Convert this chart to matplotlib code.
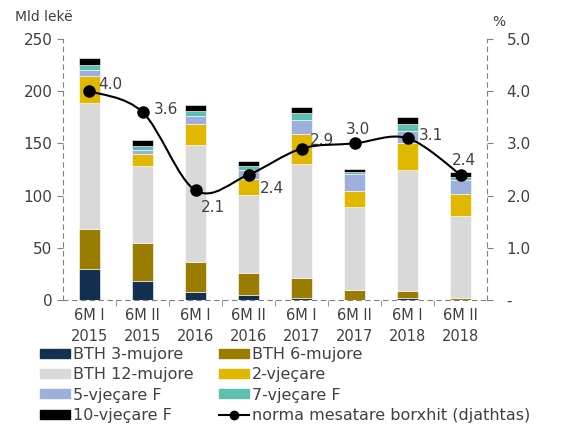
import numpy as np
import matplotlib.pyplot as plt
from matplotlib.path import Path
from matplotlib.patches import PathPatch
from matplotlib.lines import Line2D
from matplotlib.patches import Patch

plt.rcParams['font.family'] = ['DejaVu Sans']

# data
periods = ["6M I\n2015", "6M II\n2015", "6M I\n2016", "6M II\n2016",
           "6M I\n2017", "6M II\n2017", "6M I\n2018", "6M II\n2018"]
bth3 = [30, 18.5, 7.5, 4.5, 1.5, 0.3, 2, 0.3]
bth6 = [38, 36.5, 28.5, 21, 20, 9.5, 6.5, 2]
bth12 = [121, 73, 112.5, 75.5, 108.5, 79.5, 116.5, 78.5]
y2 = [26, 12, 20.5, 15, 29, 15.5, 25, 20.5]
y5 = [5, 4, 7, 8.5, 13, 16, 12, 14]
y7 = [5, 3.5, 5, 3.5, 7, 1.5, 7, 2.5]
y10 = [7, 5.5, 6, 5.5, 6, 3.5, 6.5, 5]
rate = [4.0, 3.6, 2.1, 2.4, 2.9, 3.0, 3.1, 2.4]

series = [bth3, bth6, bth12, y2, y5, y7, y10]
names = ["BTH 3-mujore", "BTH 6-mujore", "BTH 12-mujore", "2-vjeçare",
         "5-vjeçare F", "7-vjeçare F", "10-vjeçare F"]
colors = ["#12304f", "#9a7d00", "#d9d9d9", "#e0b800", "#9fafdc", "#5cbfb0", "#000000"]
txt = "#404040"

fig = plt.figure(figsize=(5.61, 4.41), dpi=100)
ax = fig.add_axes([63/561, 1-300/441, (487-63)/561, (300-39)/441])
ax2 = ax.twinx()

x = np.arange(len(periods))
bottom = np.zeros(len(periods))
for s, c in zip(series, colors):
    ax.bar(x, s, width=0.4, bottom=bottom, color=c, edgecolor='white', linewidth=0.4)
    bottom += np.array(s)

# smoothed line (catmull-rom as bezier)
pts = np.column_stack([x, rate]).astype(float)
ext = np.vstack([pts[0], pts, pts[-1]])
verts = [tuple(pts[0])]
codes = [Path.MOVETO]
for i in range(len(pts) - 1):
    p0, p1, p2, p3 = ext[i], ext[i+1], ext[i+2], ext[i+3]
    c1 = p1 + (p2 - p0) / 6
    c2 = p2 - (p3 - p1) / 6
    verts += [tuple(c1), tuple(c2), tuple(p2)]
    codes += [Path.CURVE4] * 3
ax2.add_patch(PathPatch(Path(verts, codes), fill=False, edgecolor='black', lw=1.5, zorder=5))
ax2.plot(x, rate, 'o', color='black', markersize=8, zorder=6)

offsets = [(6, 5), (8, 2), (4, -12), (8, -10), (6, 6), (-6, 10), (8, 2), (-6, 10)]
for xi, r, (dx, dy) in zip(x, rate, offsets):
    ax2.annotate(f"{r:.1f}", (xi, r), xytext=(dx, dy), textcoords='offset points',
                 fontsize=11, color=txt, va='center', ha='left')

ax.set_xlim(-0.5, 7.5)
ax.set_ylim(0, 250)
ax2.set_ylim(0, 5)
ax.set_yticks([0, 50, 100, 150, 200, 250])
ax2.set_yticks([0, 1, 2, 3, 4, 5])
ax2.set_yticklabels(["-", "1.0", "2.0", "3.0", "4.0", "5.0"])
ax.set_xticks(x)
ax.set_xticklabels(periods, linespacing=1.5)
ax.set_xticks(np.arange(0.5, 7.5, 1), minor=True)

for a in (ax, ax2):
    a.spines['top'].set_visible(False)
    for side in ['left', 'right', 'bottom']:
        a.spines[side].set_linestyle((0, (4, 4)))
        a.spines[side].set_color('#808080')
        a.spines[side].set_linewidth(0.8)
    a.tick_params(colors='#808080', labelcolor=txt, labelsize=11, length=4, width=0.8)
ax.spines['right'].set_visible(False)
ax2.spines['left'].set_visible(False)
ax2.spines['bottom'].set_visible(False)
ax.tick_params(axis='x', which='major', length=0, pad=6, labelsize=10.5)
ax.tick_params(axis='x', which='minor', length=4, color='#808080')
ax2.tick_params(axis='y', pad=10)

fig.text(15/561, 1-17/441, "Mld lekë", fontsize=10, color=txt, va='center')
fig.text(492/561, 1-22/441, "%", fontsize=10, color=txt, va='center')

hs = [Patch(color=c) for c in colors]
line_h = Line2D([], [], color='black', marker='o', markersize=6, lw=1.5)
handles = [hs[0], hs[2], hs[4], hs[6], hs[1], hs[3], hs[5], line_h]
labels = [names[0], names[2], names[4], names[6], names[1], names[3], names[5],
          "norma mesatare borxhit (djathtas)"]
fig.legend(handles, labels, ncol=2, loc='upper left', bbox_to_anchor=(40/561, 1-347/441),
           frameon=False, fontsize=11.5, handlelength=1.9, handleheight=0.5,
           handletextpad=0.15, labelspacing=0.33, columnspacing=1.6,
           borderaxespad=0, borderpad=0, labelcolor=txt)

fig.savefig("out.png", dpi=100)
